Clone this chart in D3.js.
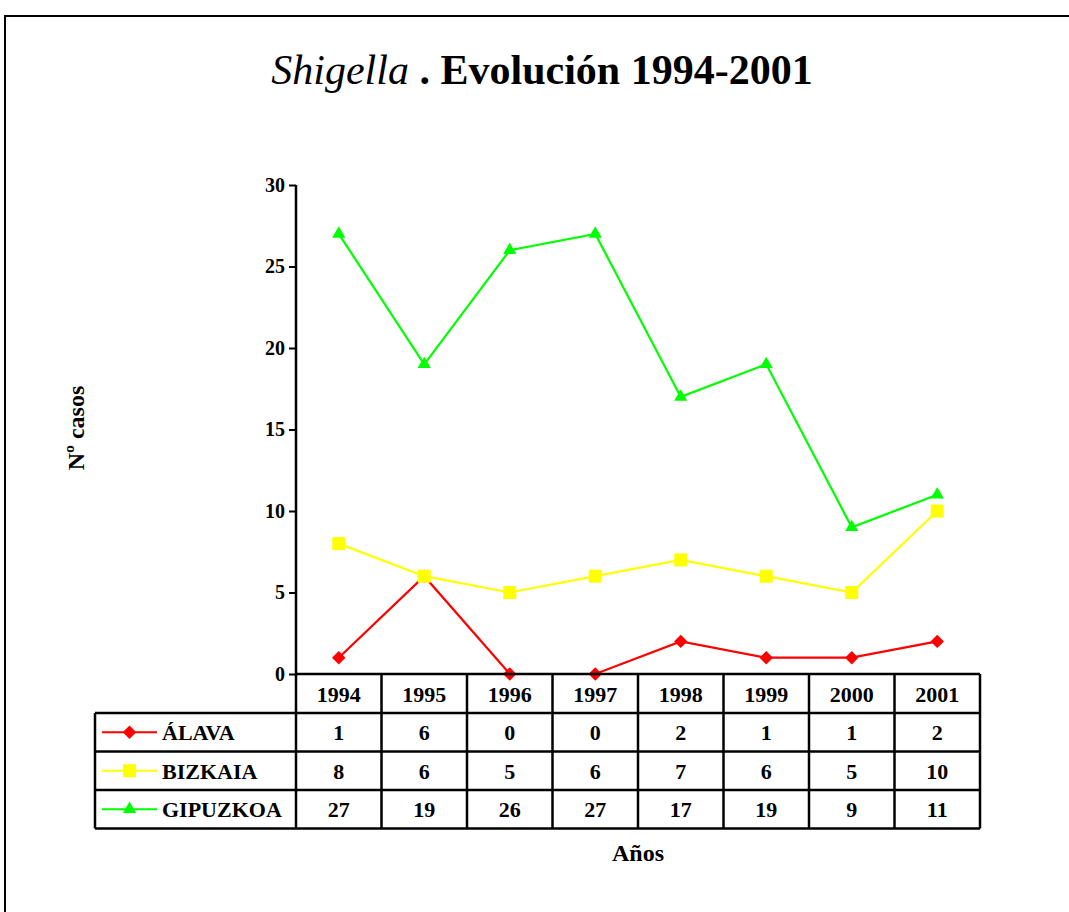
<!DOCTYPE html>
<html>
<head>
<meta charset="utf-8">
<script src="https://cdn.jsdelivr.net/npm/d3@7"></script>
<style>
  body { margin: 0; background: #fff; }
  text { font-family: "Liberation Serif", "Times New Roman", serif; font-weight: bold; }
</style>
</head>
<body>
<svg></svg>
<script>
// chart size
var width = 1069;
var height = 912;

// data
const years = ["1994", "1995", "1996", "1997", "1998", "1999", "2000", "2001"];
const seriesNames = ["ÁLAVA", "BIZKAIA", "GIPUZKOA"];
const alava = [1, 6, 0, 0, 2, 1, 1, 2];
const bizkaia = [8, 6, 5, 6, 7, 6, 5, 10];
const gipuzkoa = [27, 19, 26, 27, 17, 19, 9, 11];
const yTicks = [0, 5, 10, 15, 20, 25, 30];

const colors = ["#ff0000", "#ffff00", "#00ff00"];
const shapes = [d3.symbolDiamond2, d3.symbolSquare2, d3.symbolTriangle2];
const sizes = [115, 215, 125];

let series = seriesNames.map((name, i) => {
    return { name: name, values: [alava, bizkaia, gipuzkoa][i], color: colors[i], shape: shapes[i], size: sizes[i] };
});

var svg = d3.select("svg").attr("width", width).attr("height", height);

// outer frame (runs off the right and bottom edge)
svg.append("path")
    .attr("d", "M5,1000 L5,16 L1100,16")
    .attr("fill", "none")
    .attr("stroke", "#000")
    .attr("stroke-width", 2);

// title
let title = svg.append("text")
    .attr("x", 542)
    .attr("y", 84)
    .attr("text-anchor", "middle")
    .style("font-size", "42px");
title.append("tspan").style("font-style", "italic").style("font-weight", "normal").text("Shigella");
title.append("tspan").text(" . Evolución 1994-2001");

// scales
let plotLeft = 296, plotRight = 980, plotTop = 185, plotBottom = 674;
let xScale = d3.scaleBand().domain(years).range([plotLeft, plotRight]);
let yScale = d3.scaleLinear().domain([0, 30]).range([plotBottom, plotTop]);

// y axis
let yAxis = d3.axisLeft(yScale).tickValues(yTicks).tickSize(7).tickPadding(4);
let gy = svg.append("g").attr("transform", "translate(" + plotLeft + ",0)").call(yAxis);
gy.select(".domain").attr("stroke-width", 2.5).attr("d", "M0," + plotTop + "V" + plotBottom);
gy.selectAll(".tick line").attr("stroke-width", 2);
gy.selectAll(".tick text")
    .style("font-family", "Liberation Serif")
    .style("font-weight", "bold")
    .style("font-size", "20px");

// y title
svg.append("text")
    .attr("text-anchor", "middle")
    .attr("transform", "translate(84,428) rotate(-90)")
    .style("font-size", "24px")
    .text("Nº casos");

// lines and markers
let line = d3.line()
    .x((d, i) => xScale(years[i]) + xScale.bandwidth() / 2)
    .y((d) => yScale(d));

series.forEach((s) => {
    svg.append("path")
        .attr("d", line(s.values))
        .attr("fill", "none")
        .attr("stroke", s.color)
        .attr("stroke-width", 2.2);
    svg.selectAll(null)
        .data(s.values)
        .enter()
        .append("path")
        .attr("d", d3.symbol().type(s.shape).size(s.size))
        .attr("transform", (d, i) => "translate(" + (xScale(years[i]) + xScale.bandwidth() / 2) + "," + yScale(d) + ")")
        .attr("fill", s.color);
});

// data table
let rowH = 38.5;
let headTop = plotBottom, headBottom = 713;
let legendLeft = 95;
let tableBottom = headBottom + rowH * series.length;
let tbl = svg.append("g").attr("stroke", "#000").attr("stroke-width", 2.5);

// horizontal lines
tbl.append("line").attr("x1", plotLeft).attr("x2", plotRight).attr("y1", headTop).attr("y2", headTop);
for (let r = 0; r <= series.length; r++) {
    let y = headBottom + r * rowH;
    tbl.append("line").attr("x1", legendLeft).attr("x2", plotRight).attr("y1", y).attr("y2", y);
}
// vertical lines
tbl.append("line").attr("x1", legendLeft).attr("x2", legendLeft).attr("y1", headBottom).attr("y2", tableBottom);
years.forEach((y) => {
    let x = xScale(y);
    tbl.append("line").attr("x1", x).attr("x2", x).attr("y1", headTop).attr("y2", tableBottom);
});
tbl.append("line").attr("x1", plotRight).attr("x2", plotRight).attr("y1", headTop).attr("y2", tableBottom);

// header labels
svg.selectAll(".yearLabel")
    .data(years)
    .enter()
    .append("text")
    .attr("x", (d) => xScale(d) + xScale.bandwidth() / 2)
    .attr("y", 702)
    .attr("text-anchor", "middle")
    .style("font-size", "22px")
    .text((d) => d);

// rows
series.forEach((s, r) => {
    let cy = headBottom + r * rowH + rowH / 2;
    // legend key
    svg.append("line")
        .attr("x1", 102).attr("x2", 157)
        .attr("y1", cy).attr("y2", cy)
        .attr("stroke", s.color).attr("stroke-width", 2.2);
    svg.append("path")
        .attr("d", d3.symbol().type(s.shape).size(s.size))
        .attr("transform", "translate(129.5," + cy + ")")
        .attr("fill", s.color);
    svg.append("text")
        .attr("x", 162)
        .attr("y", cy + 8)
        .style("font-size", "22px")
        .text(s.name);
    // values
    svg.selectAll(null)
        .data(s.values)
        .enter()
        .append("text")
        .attr("x", (d, i) => xScale(years[i]) + xScale.bandwidth() / 2)
        .attr("y", cy + 8)
        .attr("text-anchor", "middle")
        .style("font-size", "22px")
        .text((d) => d);
});

// x title
svg.append("text")
    .attr("x", 638)
    .attr("y", 861)
    .attr("text-anchor", "middle")
    .style("font-size", "24px")
    .text("Años");
</script>
</body>
</html>
